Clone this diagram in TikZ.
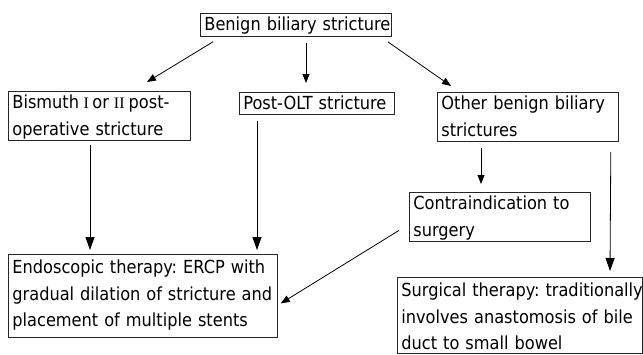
\documentclass[tikz,border=0pt]{standalone}
\usepackage{fontspec}
\setmainfont{DejaVu Sans Condensed}
\newfontfamily\romnum{Liberation Serif}
\newcommand{\rnum}[1]{{\romnum\fontsize{16bp}{16bp}\selectfont #1}}
\usetikzlibrary{arrows.meta,calc}
\begin{document}
\begin{tikzpicture}[x=1bp,y=-1bp,
  box/.style={draw=black!85, line width=0.8bp, anchor=north west, inner xsep=4bp, inner ysep=0pt,
    align=left, font=\fontsize{18bp}{26.7bp}\selectfont\frenchspacing, text height=17bp},
  arr/.style={-{Triangle[width=9bp,length=13bp]}, line width=0.8bp},
  sarr/.style={-{Triangle[width=7bp,length=9bp]}, line width=0.8bp}]
\useasboundingbox (0,0) rectangle (643,354);
\node[box, text width=183bp, text depth=6bp] (top) at (200,13) {\mbox{Benign biliary stricture}};
\node[box, text width=174bp, text depth=32bp] (bis) at (8,91) {\mbox{Bismuth\hspace{4.5bp}\rnum{I}\hspace{3.5bp}or\hspace{5bp}\rnum{II}\hspace{4bp}post-}\\\mbox{operative stricture}};
\node[box, text width=147bp, text depth=5bp] (post) at (239,92) {\mbox{Post-OLT stricture}};
\node[box, text width=173bp, text depth=32bp] (oth) at (437,92) {\mbox{Other benign biliary}\\\mbox{strictures}};
\node[box, text width=173bp, text depth=32bp] (con) at (409,192) {\mbox{Contraindication to}\\\mbox{surgery}};
\node[box, text width=261bp, text height=19bp, text depth=64bp] (endo) at (8,254) {\mbox{Endoscopic therapy: ERCP with}\\\mbox{gradual dilation of stricture and}\\\mbox{placement of multiple stents}};
\node[box, text width=237bp, text height=19bp, text depth=57bp] (surg) at (397,277) {\mbox{Surgical therapy: traditionally}\\\mbox{involves anastomosis of bile}\\\mbox{duct to small bowel}};
\draw[sarr] ($(top.south west)+(13,5)$) -- ($(bis.north west)+(139,-9)$);
\draw[sarr] ($(top.south west)+(106,6)$) -- ($(post.north west)+(67,-9)$);
\draw[sarr] ($(top.south east)+(-4,5)$) -- ($(oth.north west)+(14,-6)$);
\draw[arr] ($(bis.south west)+(82,4)$) -- ($(endo.north west)+(82,-4)$);
\draw[arr] ($(post.south west)+(18,6)$) -- ($(endo.north west)+(249,-4)$);
\draw[sarr] ($(oth.south west)+(44,6)$) -- ($(con.north west)+(72,-8)$);
\draw[arr] ($(oth.south east)+(-8,10)$) -- ($(surg.north west)+(213,-6)$);
\draw[sarr] ($(con.west)+(-10,13.5)$) -- ($(endo.east)+(3,7.5)$);
\end{tikzpicture}
\end{document}
